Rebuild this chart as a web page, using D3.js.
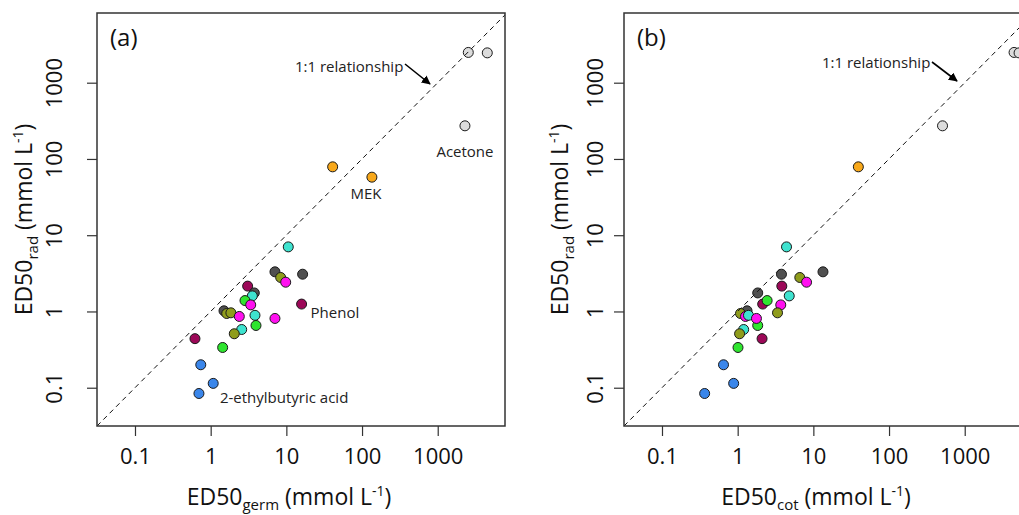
<!DOCTYPE html>
<html>
<head>
<meta charset="utf-8">
<script src="https://cdn.jsdelivr.net/npm/d3@7"></script>
<style>
  html, body { margin: 0; padding: 0; background: #fff; }
  svg { display: block; font-family: "Open Sans", "DejaVu Sans", sans-serif; }
</style>
</head>
<body>
<svg id="chart" width="1019" height="515"></svg>
<script>
// Compound group of each observation
const groups = [
  "cyan", "slate", "olive", "magenta", "slate", "crimson", "crimson", "slate",
  "cyan", "green", "magenta", "slate", "olive", "olive", "magenta", "cyan",
  "green", "magenta", "cyan", "olive", "crimson", "green", "blue", "blue",
  "blue", "acetone", "acetone", "acetone", "mek", "mek"
];

// ED50 for radicle elongation (mmol L-1)
const ed50Rad = [
  7.03, 3.31, 2.79, 2.42, 3.08, 1.25, 2.15, 1.75,
  1.60, 1.39, 1.22, 1.02, 0.94, 0.96, 0.86, 0.89,
  0.655, 0.81, 0.58, 0.51, 0.44, 0.337, 0.20, 0.114,
  0.084, 2494, 2462, 272, 78.8, 57.7
];

// ED50 for germination (mmol L-1)
const ed50Germ = [
  10.6, 7.07, 8.41, 9.8, 16.4, 15.9, 3.08, 3.77,
  3.55, 2.84, 3.38, 1.50, 1.63, 1.85, 2.39, 3.85,
  3.97, 7.07, 2.57, 2.05, 0.62, 1.44, 0.74, 1.08,
  0.70, 2535, 4518, 2290, 40.9, 135
];

// ED50 for cotyledon growth (mmol L-1); null where no value is available
const ed50Cot = [
  4.42, 13.4, 6.62, 8.13, 3.79, 2.14, 3.83, 1.84,
  4.80, 2.45, 3.71, 1.33, 1.09, 3.36, 1.27, 1.39,
  1.84, 1.77, 1.20, 1.06, 2.10, 1.01, 0.65, 0.885,
  0.366, 4487, 5225, 509, 39.3, null
];

const tickValues = [0.1, 1, 10, 100, 1000];
const tickLabels = ["0.1", "1", "10", "100", "1000"];

// Point labels in panel (a)
const noteTexts = ["Acetone", "MEK", "Phenol", "2-ethylbutyric acid"];
const noteIndex = [27, 29, 5, 24];

const palette = {
  cyan: "#3ee3cf",
  slate: "#505050",
  olive: "#8f9c1c",
  magenta: "#ff10f0",
  crimson: "#9c0858",
  green: "#2fe52f",
  blue: "#3a86ea",
  acetone: "#dcdcdc",
  mek: "#f8a81a"
};

const svg = d3.select("#chart");
const lo = Math.pow(10, -1.502);

const panels = [
  {
    id: "a", tag: "(a)", xs: ed50Germ, sub: "germ",
    left: 97, right: 505, yLabDist: 35, yTitleX: 32,
    notes: true, arrowText: [295, 72], arrowFrom: [405, 64], arrowTo: [430, 84]
  },
  {
    id: "b", tag: "(b)", xs: ed50Cot, sub: "cot",
    left: 624, right: 1032, yLabDist: 21, yTitleX: 568,
    notes: false, arrowText: [822, 68], arrowFrom: [932, 62], arrowTo: [957, 81]
  }
];

const plotTop = 13, plotBottom = 426;
const y = d3.scaleLog().domain([lo, Math.pow(10, 3.914)]).range([plotBottom, plotTop]);

const defs = svg.append("defs");
defs.append("marker")
  .attr("id", "arrowhead")
  .attr("viewBox", "0 0 10 10")
  .attr("refX", 9).attr("refY", 5)
  .attr("markerWidth", 9).attr("markerHeight", 9)
  .attr("markerUnits", "userSpaceOnUse")
  .attr("orient", "auto")
  .append("path")
  .attr("d", "M0,0 L10,5 L0,10 Z")
  .attr("fill", "#000");

panels.forEach(p => {
  const x = d3.scaleLog().domain([lo, Math.pow(10, 3.889)]).range([p.left, p.right]);
  const g = svg.append("g");

  defs.append("clipPath").attr("id", "clip-" + p.id)
    .append("rect")
    .attr("x", p.left).attr("y", plotTop)
    .attr("width", p.right - p.left).attr("height", plotBottom - plotTop);

  // Axes with ticks outward
  const xAxis = d3.axisBottom(x).tickValues(tickValues)
    .tickFormat((d, i) => tickLabels[i]).tickSize(10);
  const gx = g.append("g").attr("transform", `translate(0,${plotBottom})`).call(xAxis);
  gx.select(".domain").remove();
  gx.selectAll(".tick line").attr("stroke", "#333").attr("stroke-width", 1.2);
  gx.selectAll(".tick text")
    .attr("y", 38).attr("dy", 0)
    .attr("font-size", 22).attr("fill", "#111")
    .attr("font-family", "'Open Sans', sans-serif");

  const yAxis = d3.axisLeft(y).tickValues(tickValues)
    .tickFormat((d, i) => tickLabels[i]).tickSize(10);
  const gy = g.append("g").attr("transform", `translate(${p.left},0)`).call(yAxis);
  gy.select(".domain").remove();
  gy.selectAll(".tick line").attr("stroke", "#333").attr("stroke-width", 1.2);
  gy.selectAll(".tick text")
    .attr("x", 0).attr("dy", 0)
    .attr("text-anchor", "middle")
    .attr("transform", `translate(${-p.yLabDist},0) rotate(-90)`)
    .attr("font-size", 22).attr("fill", "#111")
    .attr("font-family", "'Open Sans', sans-serif");

  // Points
  const idx = d3.range(ed50Rad.length).filter(i => p.xs[i] != null);
  g.append("g").attr("clip-path", `url(#clip-${p.id})`)
    .selectAll("circle").data(idx).join("circle")
    .attr("cx", i => x(p.xs[i]))
    .attr("cy", i => y(ed50Rad[i]))
    .attr("r", 5)
    .attr("fill", i => palette[groups[i]])
    .attr("stroke", "#1a1a1a")
    .attr("stroke-width", 1);

  // 1:1 line
  const hi = Math.pow(10, 4);
  g.append("line").attr("clip-path", `url(#clip-${p.id})`)
    .attr("x1", x(lo)).attr("y1", y(lo))
    .attr("x2", x(hi)).attr("y2", y(hi))
    .attr("stroke", "#111").attr("stroke-width", 1)
    .attr("stroke-dasharray", "5,4");

  // Plot frame
  g.append("rect")
    .attr("x", p.left).attr("y", plotTop)
    .attr("width", p.right - p.left).attr("height", plotBottom - plotTop)
    .attr("fill", "none").attr("stroke", "#333").attr("stroke-width", 1.5);

  // Panel tag
  g.append("text").attr("x", p.left + 13).attr("y", 46)
    .attr("font-size", 24).attr("fill", "#111").text(p.tag);

  // 1:1 relationship note with arrow
  g.append("text").attr("x", p.arrowText[0]).attr("y", p.arrowText[1])
    .attr("font-size", 15).attr("fill", "#222").text("1:1 relationship");
  g.append("line")
    .attr("x1", p.arrowFrom[0]).attr("y1", p.arrowFrom[1])
    .attr("x2", p.arrowTo[0]).attr("y2", p.arrowTo[1])
    .attr("stroke", "#000").attr("stroke-width", 1.6)
    .attr("marker-end", "url(#arrowhead)");

  // Compound labels
  if (p.notes) {
    const offs = [[0, 31, "middle"], [-6, 22, "middle"], [9, 14, "start"], [21, 10, "start"]];
    noteTexts.forEach((t, k) => {
      const i = noteIndex[k];
      g.append("text")
        .attr("x", x(p.xs[i]) + offs[k][0])
        .attr("y", y(ed50Rad[i]) + offs[k][1])
        .attr("text-anchor", offs[k][2])
        .attr("font-size", 15).attr("fill", "#222").text(t);
    });
  }

  // X axis title
  const xt = g.append("text")
    .attr("x", (p.left + p.right) / 2 - 12).attr("y", 505)
    .attr("text-anchor", "middle").attr("font-size", 23).attr("fill", "#111");
  xt.append("tspan").text("ED50");
  xt.append("tspan").attr("font-size", 15).attr("dy", 5).text(p.sub);
  xt.append("tspan").attr("dy", -5).text(" (mmol L");
  xt.append("tspan").attr("font-size", 14).attr("dy", -9).text("-1");
  xt.append("tspan").attr("dy", 9).text(")");

  // Y axis title
  const yt = g.append("text")
    .attr("transform", `translate(${p.yTitleX},${(plotTop + plotBottom) / 2}) rotate(-90)`)
    .attr("text-anchor", "middle").attr("font-size", 23).attr("fill", "#111");
  yt.append("tspan").text("ED50");
  yt.append("tspan").attr("font-size", 15).attr("dy", 6).text("rad");
  yt.append("tspan").attr("dy", -6).text(" (mmol L");
  yt.append("tspan").attr("font-size", 14).attr("dy", -9).text("-1");
  yt.append("tspan").attr("dy", 9).text(")");
});
</script>
</body>
</html>
